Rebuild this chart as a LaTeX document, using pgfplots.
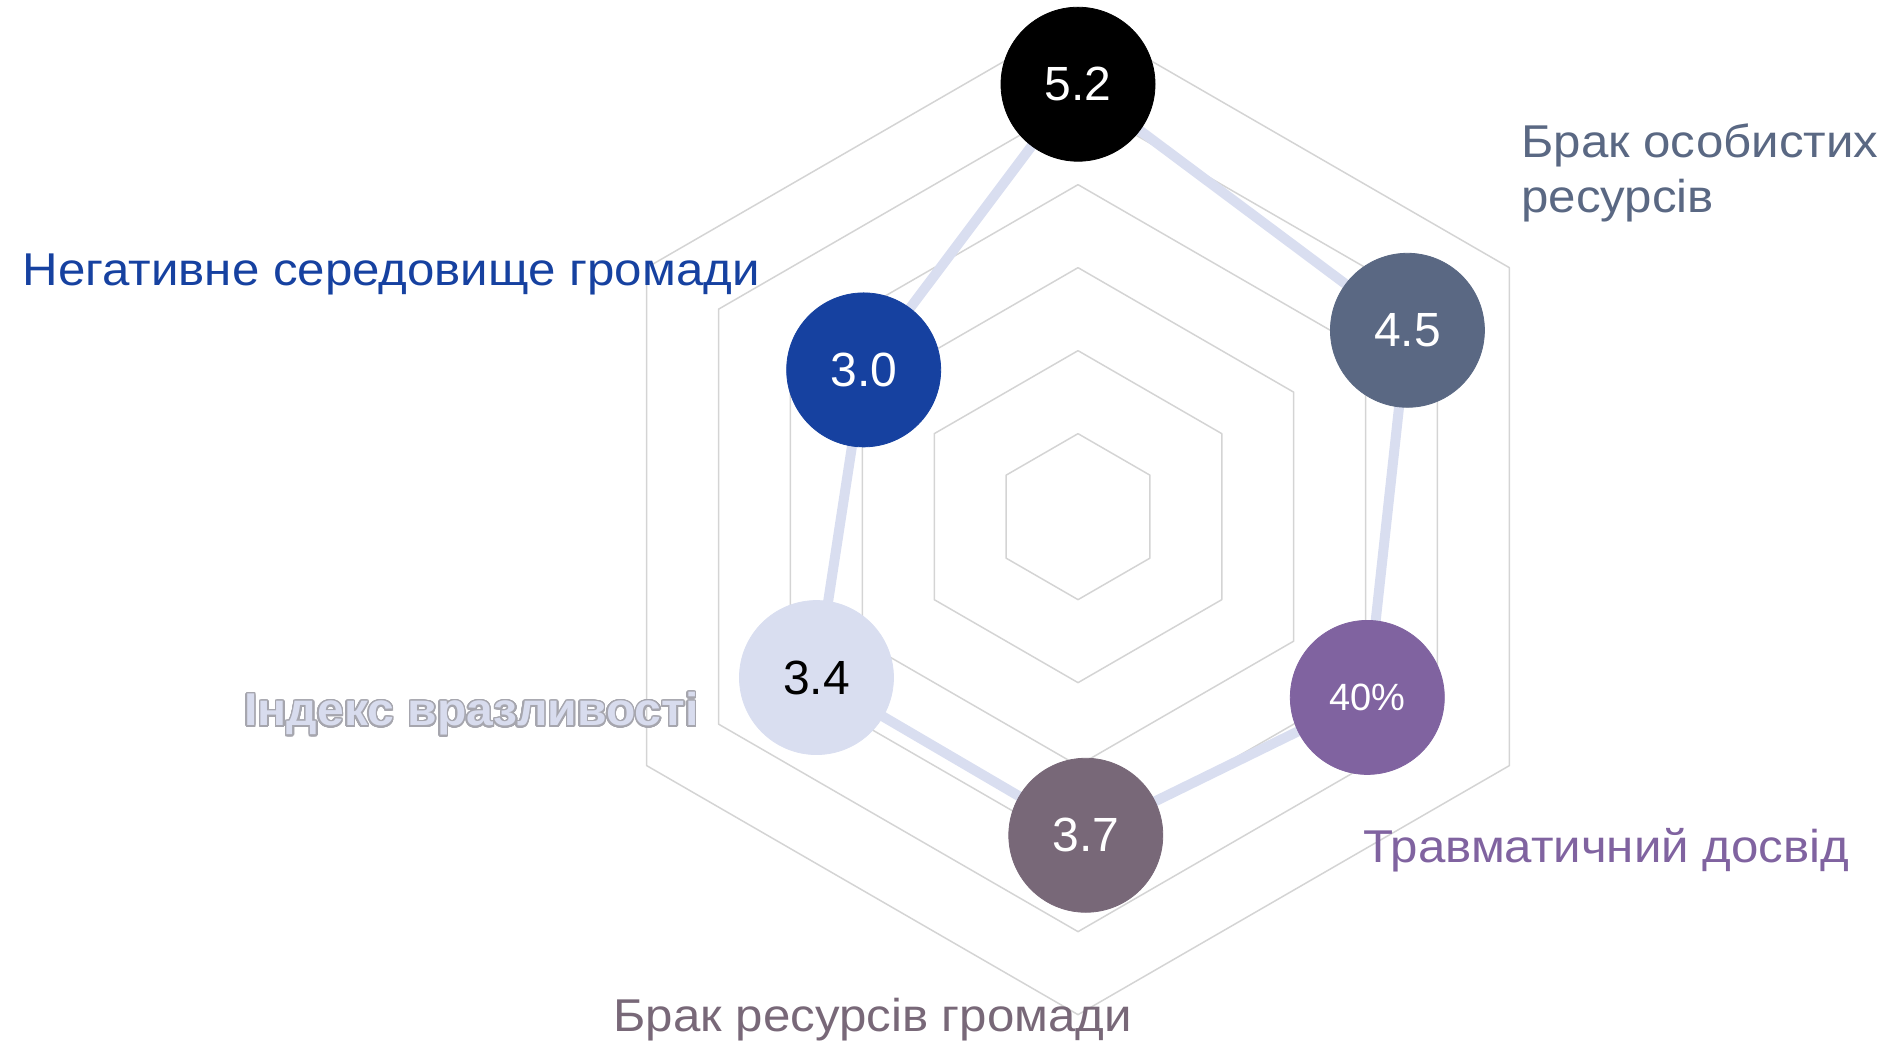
\documentclass[border=0pt]{standalone}
\usepackage{pgfplots}
\pgfplotsset{compat=1.18}
\usepackage{fontspec}
\setmainfont{Liberation Sans}
\newfontfamily\lblfam[FakeStretch=1.07]{Liberation Sans}
\newfontfamily\idxfam[FakeStretch=1.045]{Liberation Sans Bold}
\usepackage{contour}
\contourlength{0.75pt}
\contournumber{32}

\definecolor{gridc}{HTML}{D4D4D4}
\definecolor{lav}{HTML}{D9DEF0}
\definecolor{slate}{HTML}{5A6883}
\definecolor{purp}{HTML}{8063A0}
\definecolor{mauve}{HTML}{786878}
\definecolor{blu}{HTML}{1641A0}
\definecolor{outl}{HTML}{A6A6AE}
\definecolor{idxfill}{HTML}{D8DCEE}

\newcommand{\lblfont}{\lblfam\fontsize{23}{27}\selectfont}
\newcommand{\numfont}{\fontsize{24}{24}\selectfont}

\begin{document}
\begin{tikzpicture}
\begin{axis}[
  x=41.5pt, y=41.5pt,
  xmin=-12.988, xmax=9.843, ymin=-6.365, ymax=6.225,
  hide axis, clip=false,
  every axis plot/.append style={data cs=polar},
]
% hexagonal grid
\addplot[gridc, line width=0.75pt, line join=round] coordinates {(90,1)(30,1)(-30,1)(-90,1)(-150,1)(150,1)(90,1)};
\addplot[gridc, line width=0.75pt, line join=round] coordinates {(90,2)(30,2)(-30,2)(-90,2)(-150,2)(150,2)(90,2)};
\addplot[gridc, line width=0.75pt, line join=round] coordinates {(90,3)(30,3)(-30,3)(-90,3)(-150,3)(150,3)(90,3)};
\addplot[gridc, line width=0.75pt, line join=round] coordinates {(90,4)(30,4)(-30,4)(-90,4)(-150,4)(150,4)(90,4)};
\addplot[gridc, line width=0.75pt, line join=round] coordinates {(90,5)(30,5)(-30,5)(-90,5)(-150,5)(150,5)(90,5)};
\addplot[gridc, line width=0.75pt, line join=round] coordinates {(90,6)(30,6)(-30,6)(-90,6)(-150,6)(150,6)(90,6)};

% series line
\addplot[lav, line width=5pt, line join=round] coordinates {(90,5.21)(29.5,4.56)(-32,4.11)(-88.6,3.84)(-148.4,3.70)(145.6,3.13)(90,5.21)};

% circles
\addplot[only marks, mark=*, mark size=38.5pt, color=black, point meta=explicit symbolic, nodes near coords, nodes near coords align=center, every node near coord/.append style={anchor=center, text=white, font=\numfont}] coordinates {(90,5.21) [5.2]};
\addplot[only marks, mark=*, mark size=38.5pt, color=slate, point meta=explicit symbolic, nodes near coords, nodes near coords align=center, every node near coord/.append style={anchor=center, text=white, font=\numfont}] coordinates {(29.5,4.56) [4.5]};
\addplot[only marks, mark=*, mark size=38.5pt, color=purp, point meta=explicit symbolic, nodes near coords, nodes near coords align=center, every node near coord/.append style={anchor=center, text=white, font=\fontsize{19}{19}\selectfont}] coordinates {(-32,4.11) [40\%]};
\addplot[only marks, mark=*, mark size=38.5pt, color=mauve, point meta=explicit symbolic, nodes near coords, nodes near coords align=center, every node near coord/.append style={anchor=center, text=white, font=\numfont}] coordinates {(-88.6,3.84) [3.7]};
\addplot[only marks, mark=*, mark size=38.5pt, color=lav, point meta=explicit symbolic, nodes near coords, nodes near coords align=center, every node near coord/.append style={anchor=center, text=black, font=\numfont}] coordinates {(-148.4,3.70) [3.4]};
\addplot[only marks, mark=*, mark size=38.5pt, color=blu, point meta=explicit symbolic, nodes near coords, nodes near coords align=center, every node near coord/.append style={anchor=center, text=white, font=\numfont}] coordinates {(145.6,3.13) [3.0]};

% category labels
\node[anchor=base west, text=blu, font=\lblfont, inner sep=0pt] at (axis cs:-12.72,2.79) {Негативне середовище громади};
\node[anchor=base west, text=slate, font=\lblfont, inner sep=0pt] at (axis cs:5.337,4.322) {Брак особистих};
\node[anchor=base west, text=slate, font=\lblfont, inner sep=0pt] at (axis cs:5.337,3.659) {ресурсів};
\node[anchor=base west, text=idxfill, font=\idxfam\fontsize{23}{27}\selectfont, inner sep=0pt] at (axis cs:-10.048,-2.522) {\contour{outl}{Індекс вразливості}};
\node[anchor=base west, text=purp, font=\lblfont, inner sep=0pt] at (axis cs:3.434,-4.172) {Травматичний досвід};
\node[anchor=base west, text=mauve, font=\lblfont, inner sep=0pt] at (axis cs:-5.602,-6.197) {Брак ресурсів громади};

\coordinate (BL) at (axis cs:-12.988,-6.365);
\coordinate (TR) at (axis cs:9.843,6.225);
\end{axis}
\pgfresetboundingbox
\path[use as bounding box] (BL) rectangle (TR);
\end{tikzpicture}
\end{document}
